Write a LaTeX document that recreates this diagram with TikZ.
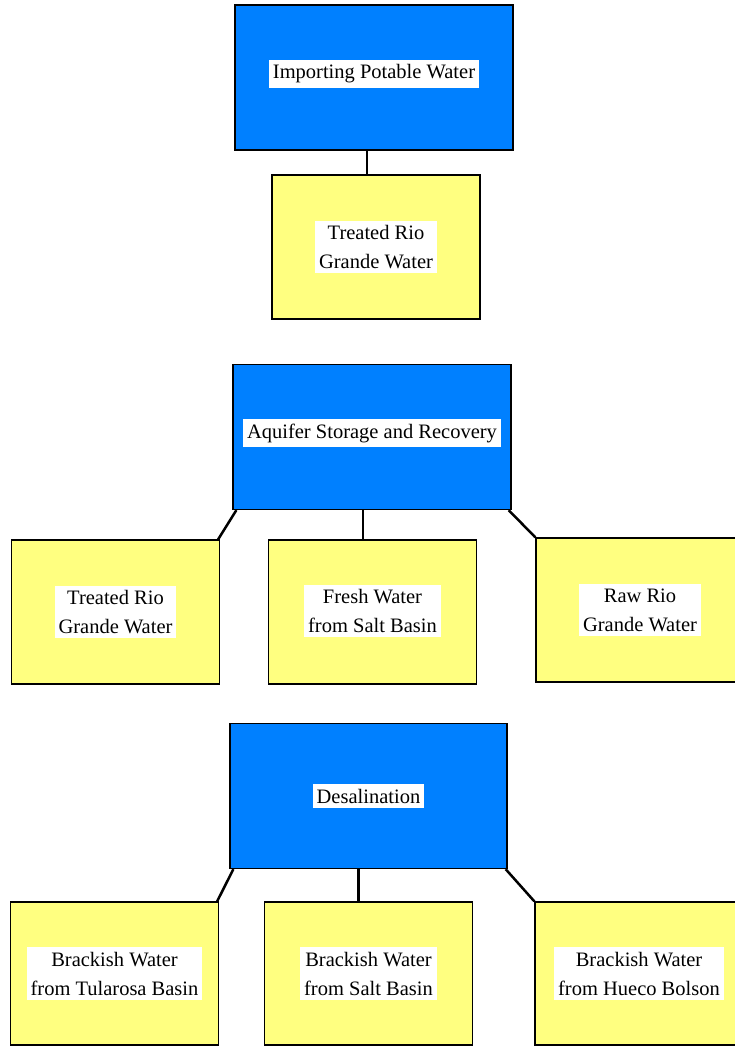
\documentclass[tikz,border=0pt]{standalone}
\usepackage{fontspec}
\setmainfont{Liberation Serif}
\definecolor{boxblue}{RGB}{0,128,255}
\definecolor{boxyellow}{RGB}{255,255,128}
\begin{document}
\begin{tikzpicture}[x=1pt,y=-1pt,
  bluebox/.style={draw=black,line width=1.3pt,fill=boxblue,minimum width=278pt,minimum height=145pt,inner sep=0pt},
  yellowbox/.style={draw=black,line width=1.3pt,fill=boxyellow,minimum width=208pt,minimum height=144pt,inner sep=0pt},
  lbl/.style={fill=white,inner xsep=4pt,inner ysep=4.5pt,align=center,font=\fontsize{20.5}{29}\selectfont},
  link/.style={line width=2.5pt,black}]
\useasboundingbox (0,0) rectangle (735,1046);
\clip (0,0) rectangle (735,1046);
% boxes
\node[bluebox] (a) at (374,77.5) {};
\node[yellowbox] (b) at (376,247) {};
\node[bluebox] (c) at (372,437) {};
\node[yellowbox] (d) at (115.5,612) {};
\node[yellowbox] (e) at (372.5,612) {};
\node[yellowbox] (f) at (640,610) {};
\node[bluebox, minimum width=277pt] (g) at (368.5,796) {};
\node[yellowbox, minimum height=143pt] (h) at (114.5,973.5) {};
\node[yellowbox, minimum height=143pt] (i) at (368.5,973.5) {};
\node[yellowbox, minimum height=143pt] (j) at (639,973.5) {};
% labels
\node[lbl] (la) at ([yshift=3.5pt]a.center) {Importing Potable Water};
\node[lbl] (lb) at (b) {Treated Rio\\Grande Water};
\node[lbl] (lc) at ([yshift=4pt]c.center) {Aquifer Storage and Recovery};
\node[lbl] (ld) at (d) {Treated Rio\\Grande Water};
\node[lbl] (le) at ([yshift=1pt]e.center) {Fresh Water\\from Salt Basin};
\node[lbl] (lf) at (f) {Raw Rio\\Grande Water};
\node[lbl] (lg) at (g) {Desalination};
\node[lbl] (lh) at (h) {Brackish Water\\from Tularosa Basin};
\node[lbl] (li) at (i) {Brackish Water\\from Salt Basin};
\node[lbl] (lj) at (j) {Brackish Water\\from Hueco Bolson};
% connectors
\draw[link] ([xshift=-7pt]a.south) -- ([xshift=-7pt]a.south |- b.north);
\draw[link] ([xshift=4pt]c.south west) -- ([xshift=-2pt]d.north east);
\draw[link] ([xshift=-9pt]c.south) -- ([xshift=-9pt]c.south |- e.north);
\draw[link] ([xshift=-3pt]c.south east) -- (f.north west);
\draw[link] ([xshift=4pt]g.south west) -- ([xshift=-2pt]h.north east);
\draw[link] ([xshift=-10pt]g.south) -- ([xshift=-10pt]g.south |- i.north);
\draw[link] ([xshift=-2pt]g.south east) -- (j.north west);
\end{tikzpicture}
\end{document}
